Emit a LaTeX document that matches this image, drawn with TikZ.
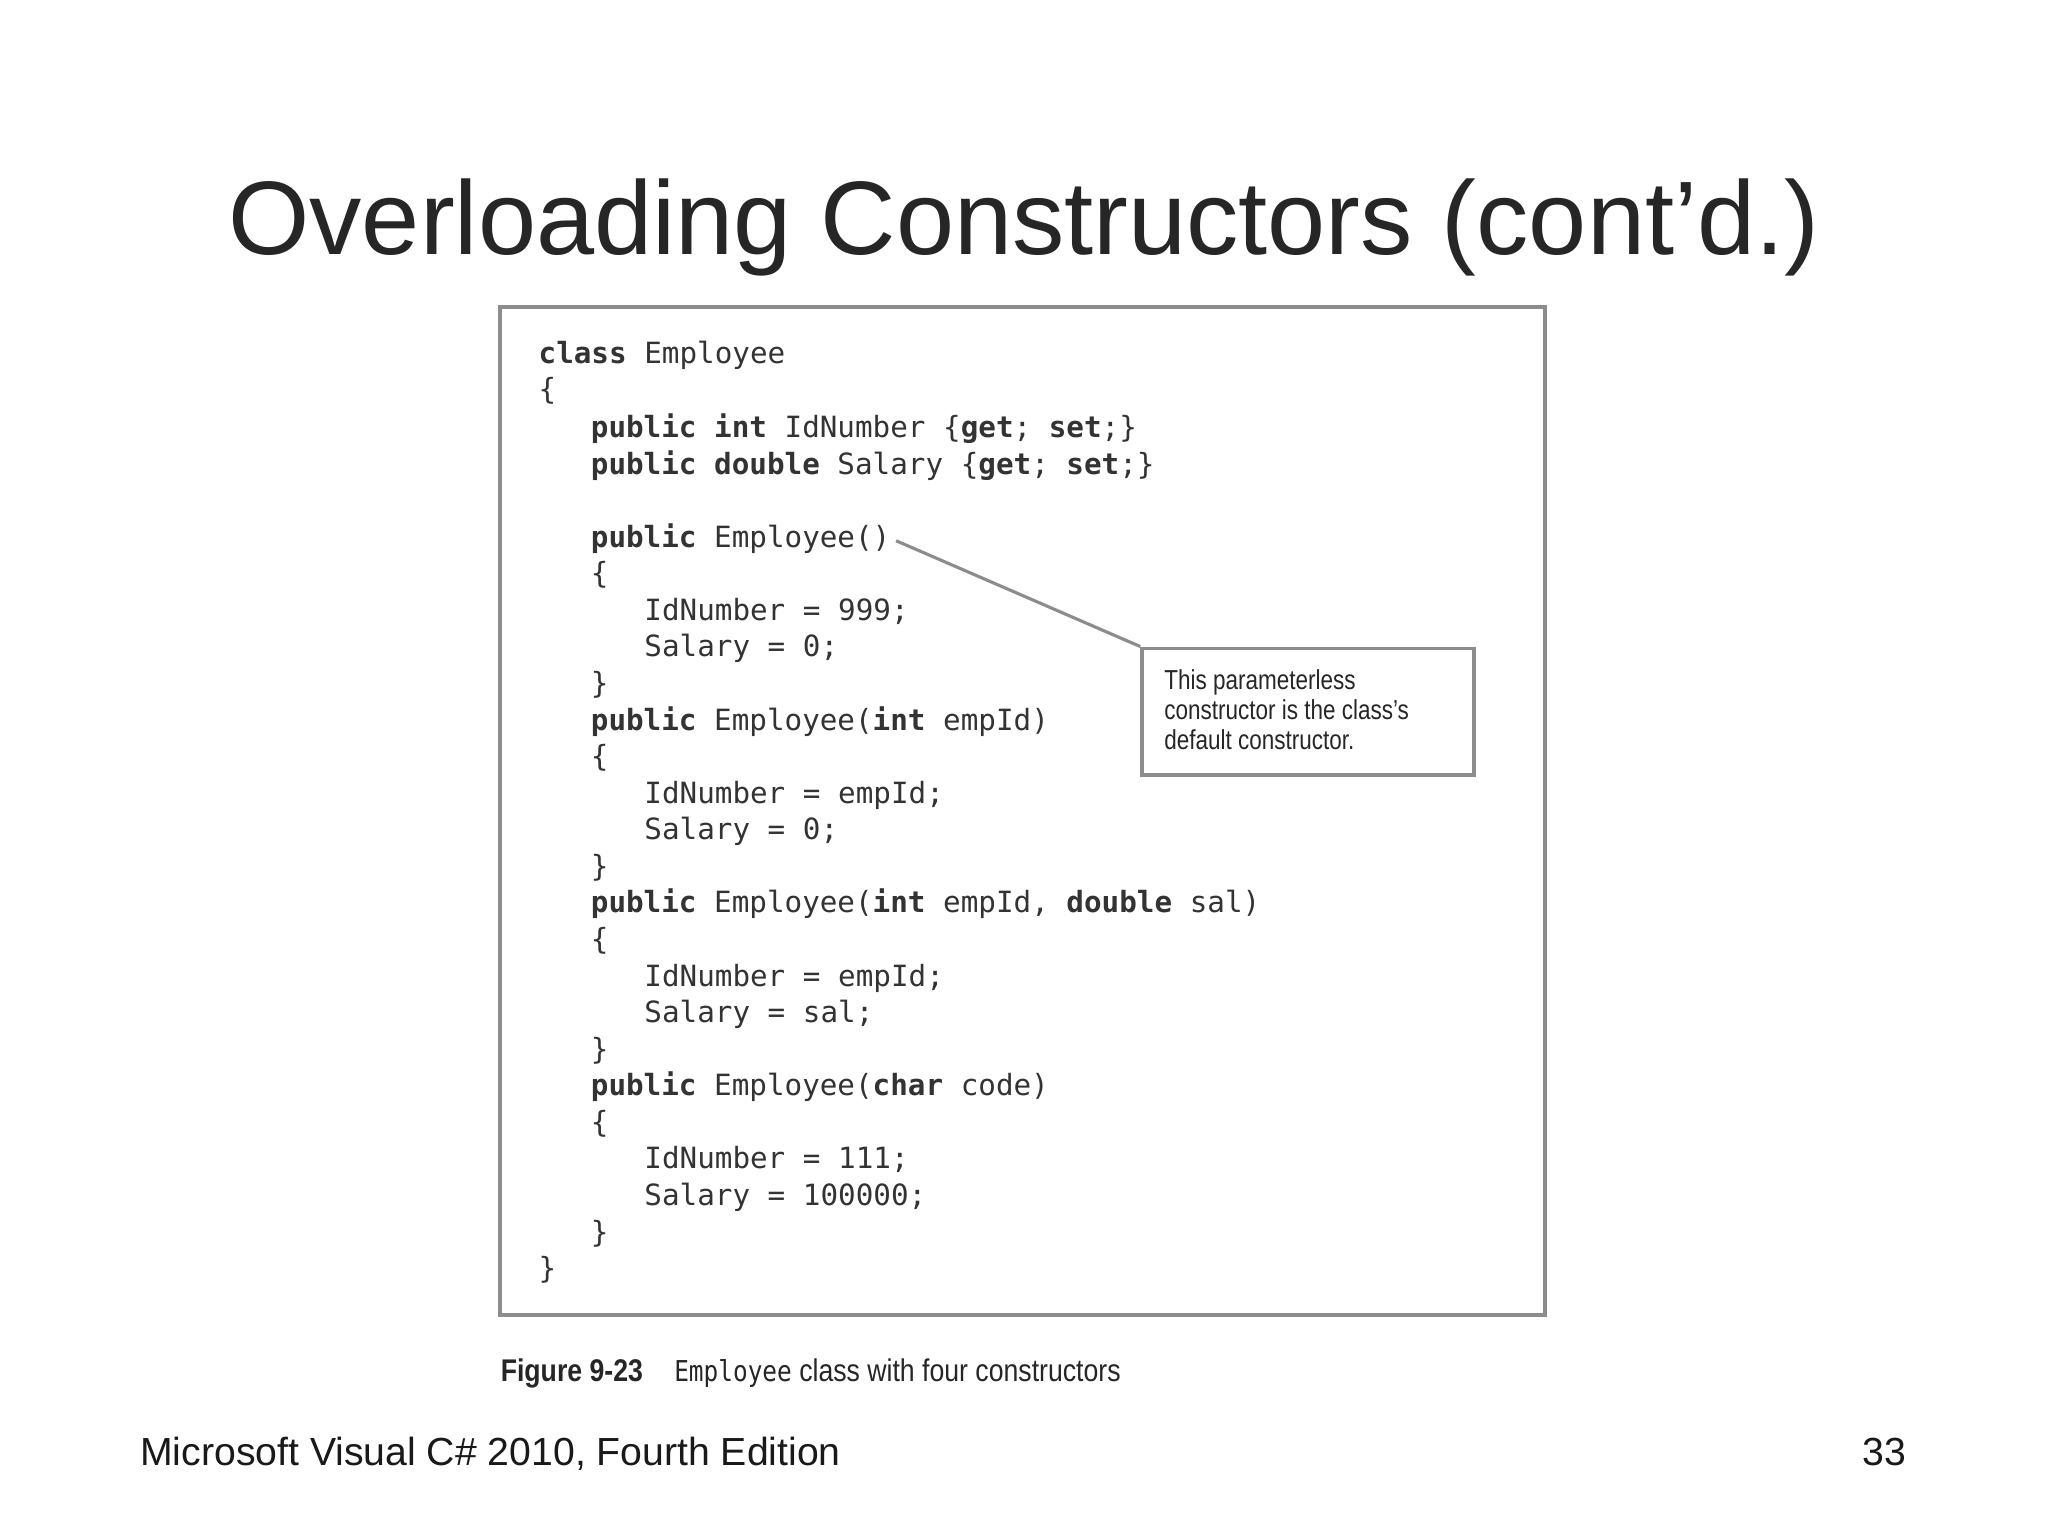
\documentclass[tikz,border=0pt]{standalone}
\usepackage{fontspec}
\setmainfont{Liberation Sans}
\newfontfamily\codefont{DejaVu Sans Mono}
\begin{document}
\begin{tikzpicture}[x=0.5pt,y=-0.5pt,
  code/.style={anchor=base west,inner sep=0pt,font=\codefont\fontsize{11.2pt}{13pt}\selectfont,text=black!80},
  frame/.style={draw=black!45,line width=1.5pt},
  note/.style={anchor=base west,inner sep=0pt,font=\fontsize{10.5pt}{12pt}\selectfont,text=black!85}]
\useasboundingbox (0,0) rectangle (1568,1176);
\node[anchor=base,inner sep=0pt,font=\fontsize{40pt}{48pt}\selectfont,text=black!85] (title) at (784,195) {Overloading Constructors (cont'd.)};
\draw[frame] (383,235) rectangle (1183,1007);
\def\x{412}
\foreach \i/\xx/\t in {
 1/412/{\textbf{class} Employee},
 2/412/{\{},
 3/452/{\textbf{public} \textbf{int} IdNumber \{\textbf{get}; \textbf{set};\}},
 4/452/{\textbf{public} \textbf{double} Salary \{\textbf{get}; \textbf{set};\}},
 5/452/{\textbf{public} Employee()},
 6/452/{\{},
 7/493/{IdNumber = 999;},
 8/493/{Salary = 0;},
 9/452/{\}},
 10/452/{\textbf{public} Employee(\textbf{int} empId)},
 11/452/{\{},
 12/493/{IdNumber = empId;},
 13/493/{Salary = 0;},
 14/452/{\}},
 15/452/{\textbf{public} Employee(\textbf{int} empId, \textbf{double} sal)},
 16/452/{\{},
 17/493/{IdNumber = empId;},
 18/493/{Salary = sal;},
 19/452/{\}},
 20/452/{\textbf{public} Employee(\textbf{char} code)},
 21/452/{\{},
 22/493/{IdNumber = 111;},
 23/493/{Salary = 100000;},
 24/452/{\}},
 25/412/{\}}}{
 \pgfmathsetmacro\yy{\i<5 ? (\i==1?278:(\i==2?306:(\i==3?335:363))) : 419+(\i-5)*28}
 \node[code] (c\i) at (\xx,\yy) {\t};
}
\node[draw=black!45,line width=1.5pt,minimum width=127pt,minimum height=48.5pt,anchor=north west,inner sep=0pt] (box) at (873,495) {};
\node[note] (n1) at (891,528) {\addfontfeature{FakeStretch=0.82}This parameterless};
\node[note] (n2) at (891,551) {\addfontfeature{FakeStretch=0.82}constructor is the class's};
\node[note] (n3) at (891,574) {\addfontfeature{FakeStretch=0.82}default constructor.};
\draw[black!45,line width=1.2pt] (c5.base east)+(4,-5) coordinate (p) -- (box.north west);
\node[anchor=base west,inner sep=0pt,font=\fontsize{12pt}{14pt}\selectfont\addfontfeature{FakeStretch=0.85},text=black!85] (cap) at (383,1058) {\textbf{Figure 9-23}\quad{\codefont\fontsize{11pt}{13pt}\selectfont\addfontfeature{FakeStretch=0.85}Employee} class with four constructors};
\node[anchor=base west,inner sep=0pt,font=\fontsize{15pt}{18pt}\selectfont,text=black!90] (foot) at (107,1122) {Microsoft Visual C\# 2010, Fourth Edition};
\node[anchor=base east,inner sep=0pt,font=\fontsize{15pt}{18pt}\selectfont,text=black!90] (pg) at (1460,1122) {33};
\end{tikzpicture}
\end{document}
